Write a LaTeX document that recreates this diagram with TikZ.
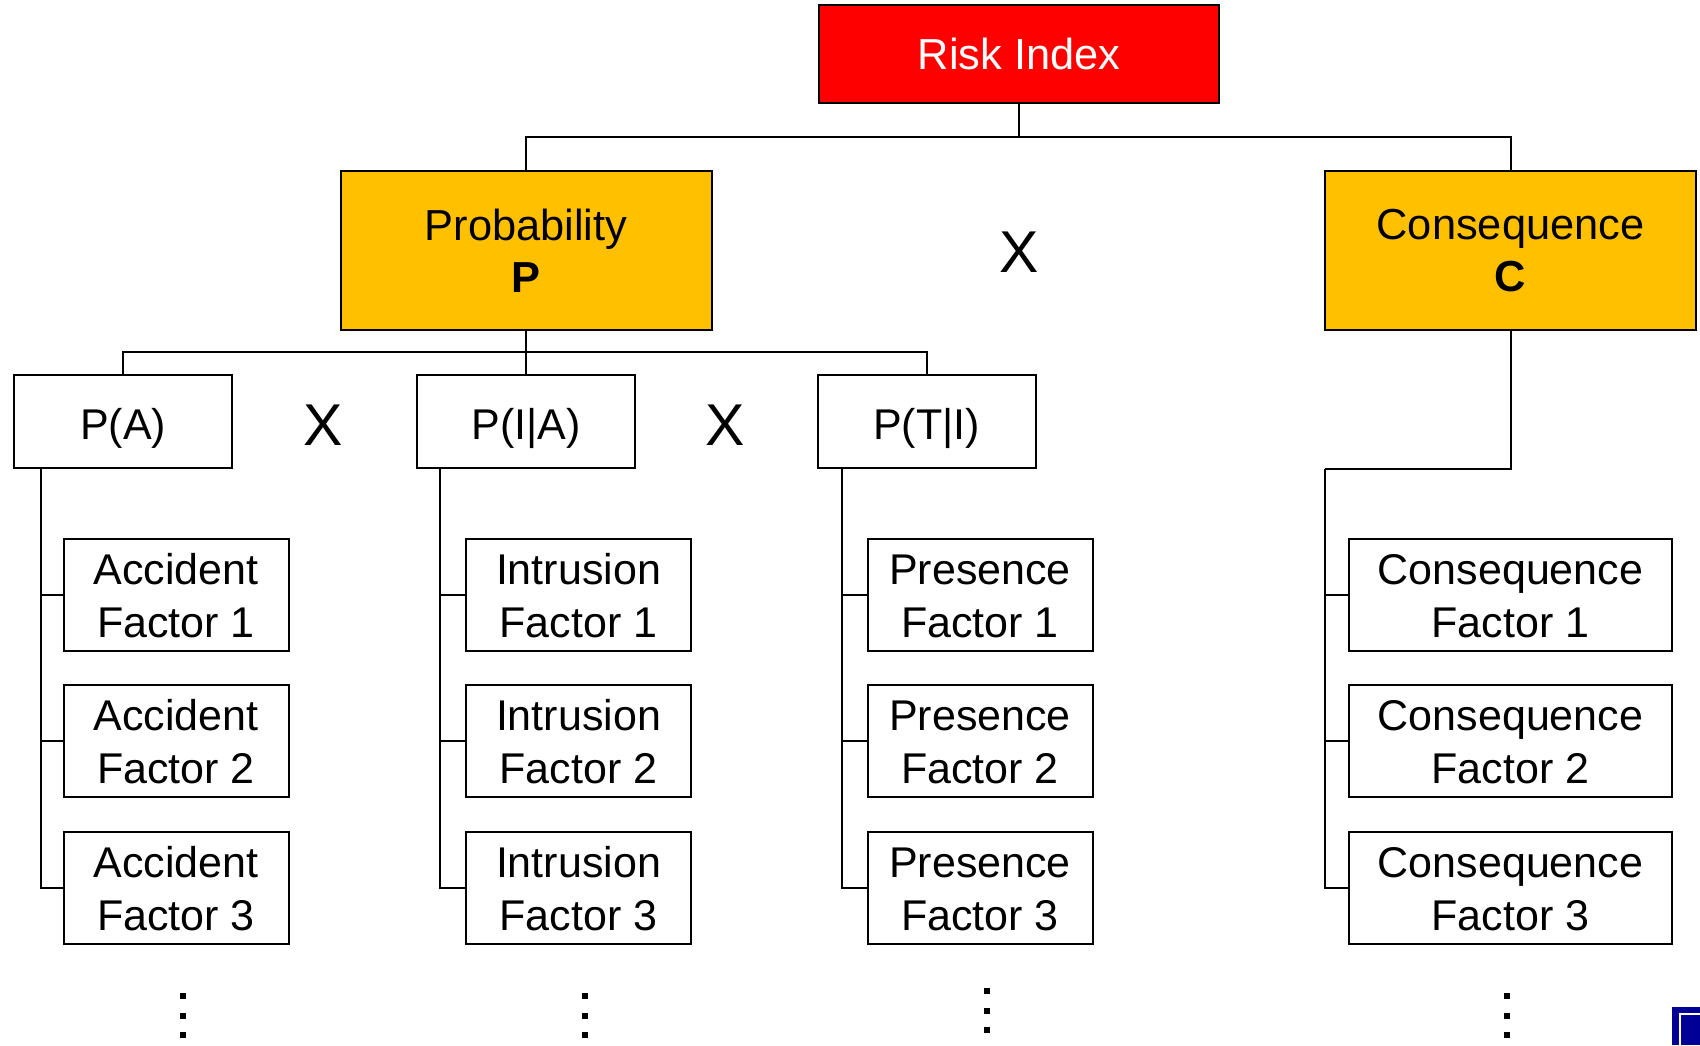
\documentclass[tikz,border=0pt]{standalone}
\usepackage{fontspec}
\setmainfont{Liberation Sans}
\definecolor{riskred}{RGB}{255,0,0}
\definecolor{gold}{RGB}{255,192,0}
\definecolor{navyicon}{RGB}{0,0,150}
\begin{document}
\begin{tikzpicture}[x=0.5pt,y=-0.5pt,
  line width=1pt,
  box/.style={draw=black, line width=1pt, inner sep=0pt, align=center},
  topbox/.style={box, fill=riskred, text=white, minimum width=200pt, minimum height=49pt,
    font=\fontsize{21.7}{26}\selectfont},
  midbox/.style={box, fill=gold, minimum width=185.5pt, minimum height=79.5pt,
    font=\fontsize{21.7}{26}\selectfont},
  pbox/.style={box, fill=white, minimum width=109pt, minimum height=46.5pt,
    text height=17.5pt, text depth=0pt,
    font=\fontsize{21.5}{26}\selectfont},
  fbox/.style={box, fill=white, minimum width=112.5pt, minimum height=56pt,
    text height=42.5pt, text depth=0pt,
    font=\fontsize{21.5}{26.5}\selectfont},
  cfbox/.style={fbox, minimum width=161.5pt},
  times/.style={inner sep=0pt, font=\fontsize{29.5}{30}\selectfont},
  link/.style={draw=black, line width=1pt},
  vdot/.style={fill=black, draw=none}
]
\useasboundingbox (0,0) rectangle (1700,1045);

% top level
\node[topbox] (risk) at (1019,54) {Risk Index};
\node[midbox] (prob) at (526,250.5) {Probability\\\textbf{P}};
\node[midbox] (cons) at (1510.5,250.5) {Consequence\\\textbf{C}};
\node[times] (x0) at (1019,252) {X};

% probability terms
\node[pbox] (pa)  at (123,421.5) {P(A)};
\node[pbox] (pia) at (526,421.5) {P(I|A)};
\node[pbox] (pti) at (926.5,421.5) {P(T|I)};
\node[times] (x1) at (323,425) {X};
\node[times] (x2) at (725,425) {X};

% factor boxes
\foreach \i/\y in {1/595,2/741,3/888} {
  \node[fbox]  (af\i) at (176,\y)    {Accident\\Factor \i};
  \node[fbox]  (if\i) at (578.5,\y)  {Intrusion\\Factor \i};
  \node[fbox]  (pf\i) at (980,\y)    {Presence\\Factor \i};
  \node[cfbox] (cf\i) at (1510.5,\y) {Consequence\\Factor \i};
}

% junction points
\coordinate (tj) at (1019,137);
\coordinate (pj) at (526,352);
\coordinate (ba) at (41,468);
\coordinate (bi) at (440,468);
\coordinate (bp) at (842,468);
\coordinate (bc) at (1325,469);

% tree connectors
\draw[link] (risk.south) -- (tj);
\draw[link] (prob.north) -- (prob.north |- tj) -- (cons.north |- tj) -- (cons.north);
\draw[link] (prob.south) -- (pj);
\draw[link] (pa.north) -- (pa.north |- pj) -- (pti.north |- pj) -- (pti.north);
\draw[link] (pia.north) -- (pia.north |- pj);
\draw[link] (cons.south) |- (bc);

\draw[link] (ba) |- (af3.west);
\draw[link] (ba |- af1.west) -- (af1.west);
\draw[link] (ba |- af2.west) -- (af2.west);

\draw[link] (bi) |- (if3.west);
\draw[link] (bi |- if1.west) -- (if1.west);
\draw[link] (bi |- if2.west) -- (if2.west);

\draw[link] (bp) |- (pf3.west);
\draw[link] (bp |- pf1.west) -- (pf1.west);
\draw[link] (bp |- pf2.west) -- (pf2.west);

\draw[link] (bc) |- (cf3.west);
\draw[link] (bc |- cf1.west) -- (cf1.west);
\draw[link] (bc |- cf2.west) -- (cf2.west);

% continuation marks under each column
\foreach \cx/\dy in {183/0,585/0,987/-5,1507/0} {
  \foreach \cy in {996,1016,1035} {
    \fill[vdot] (\cx-3,\cy+\dy-3) rectangle (\cx+3,\cy+\dy+3);
  }
}

% corner icon
\fill[navyicon] (1672,1007) rectangle (1700,1045);
\draw[white, line width=0.8pt] (1680,1045) -- (1680,1014) -- (1700,1014);
\end{tikzpicture}
\end{document}
